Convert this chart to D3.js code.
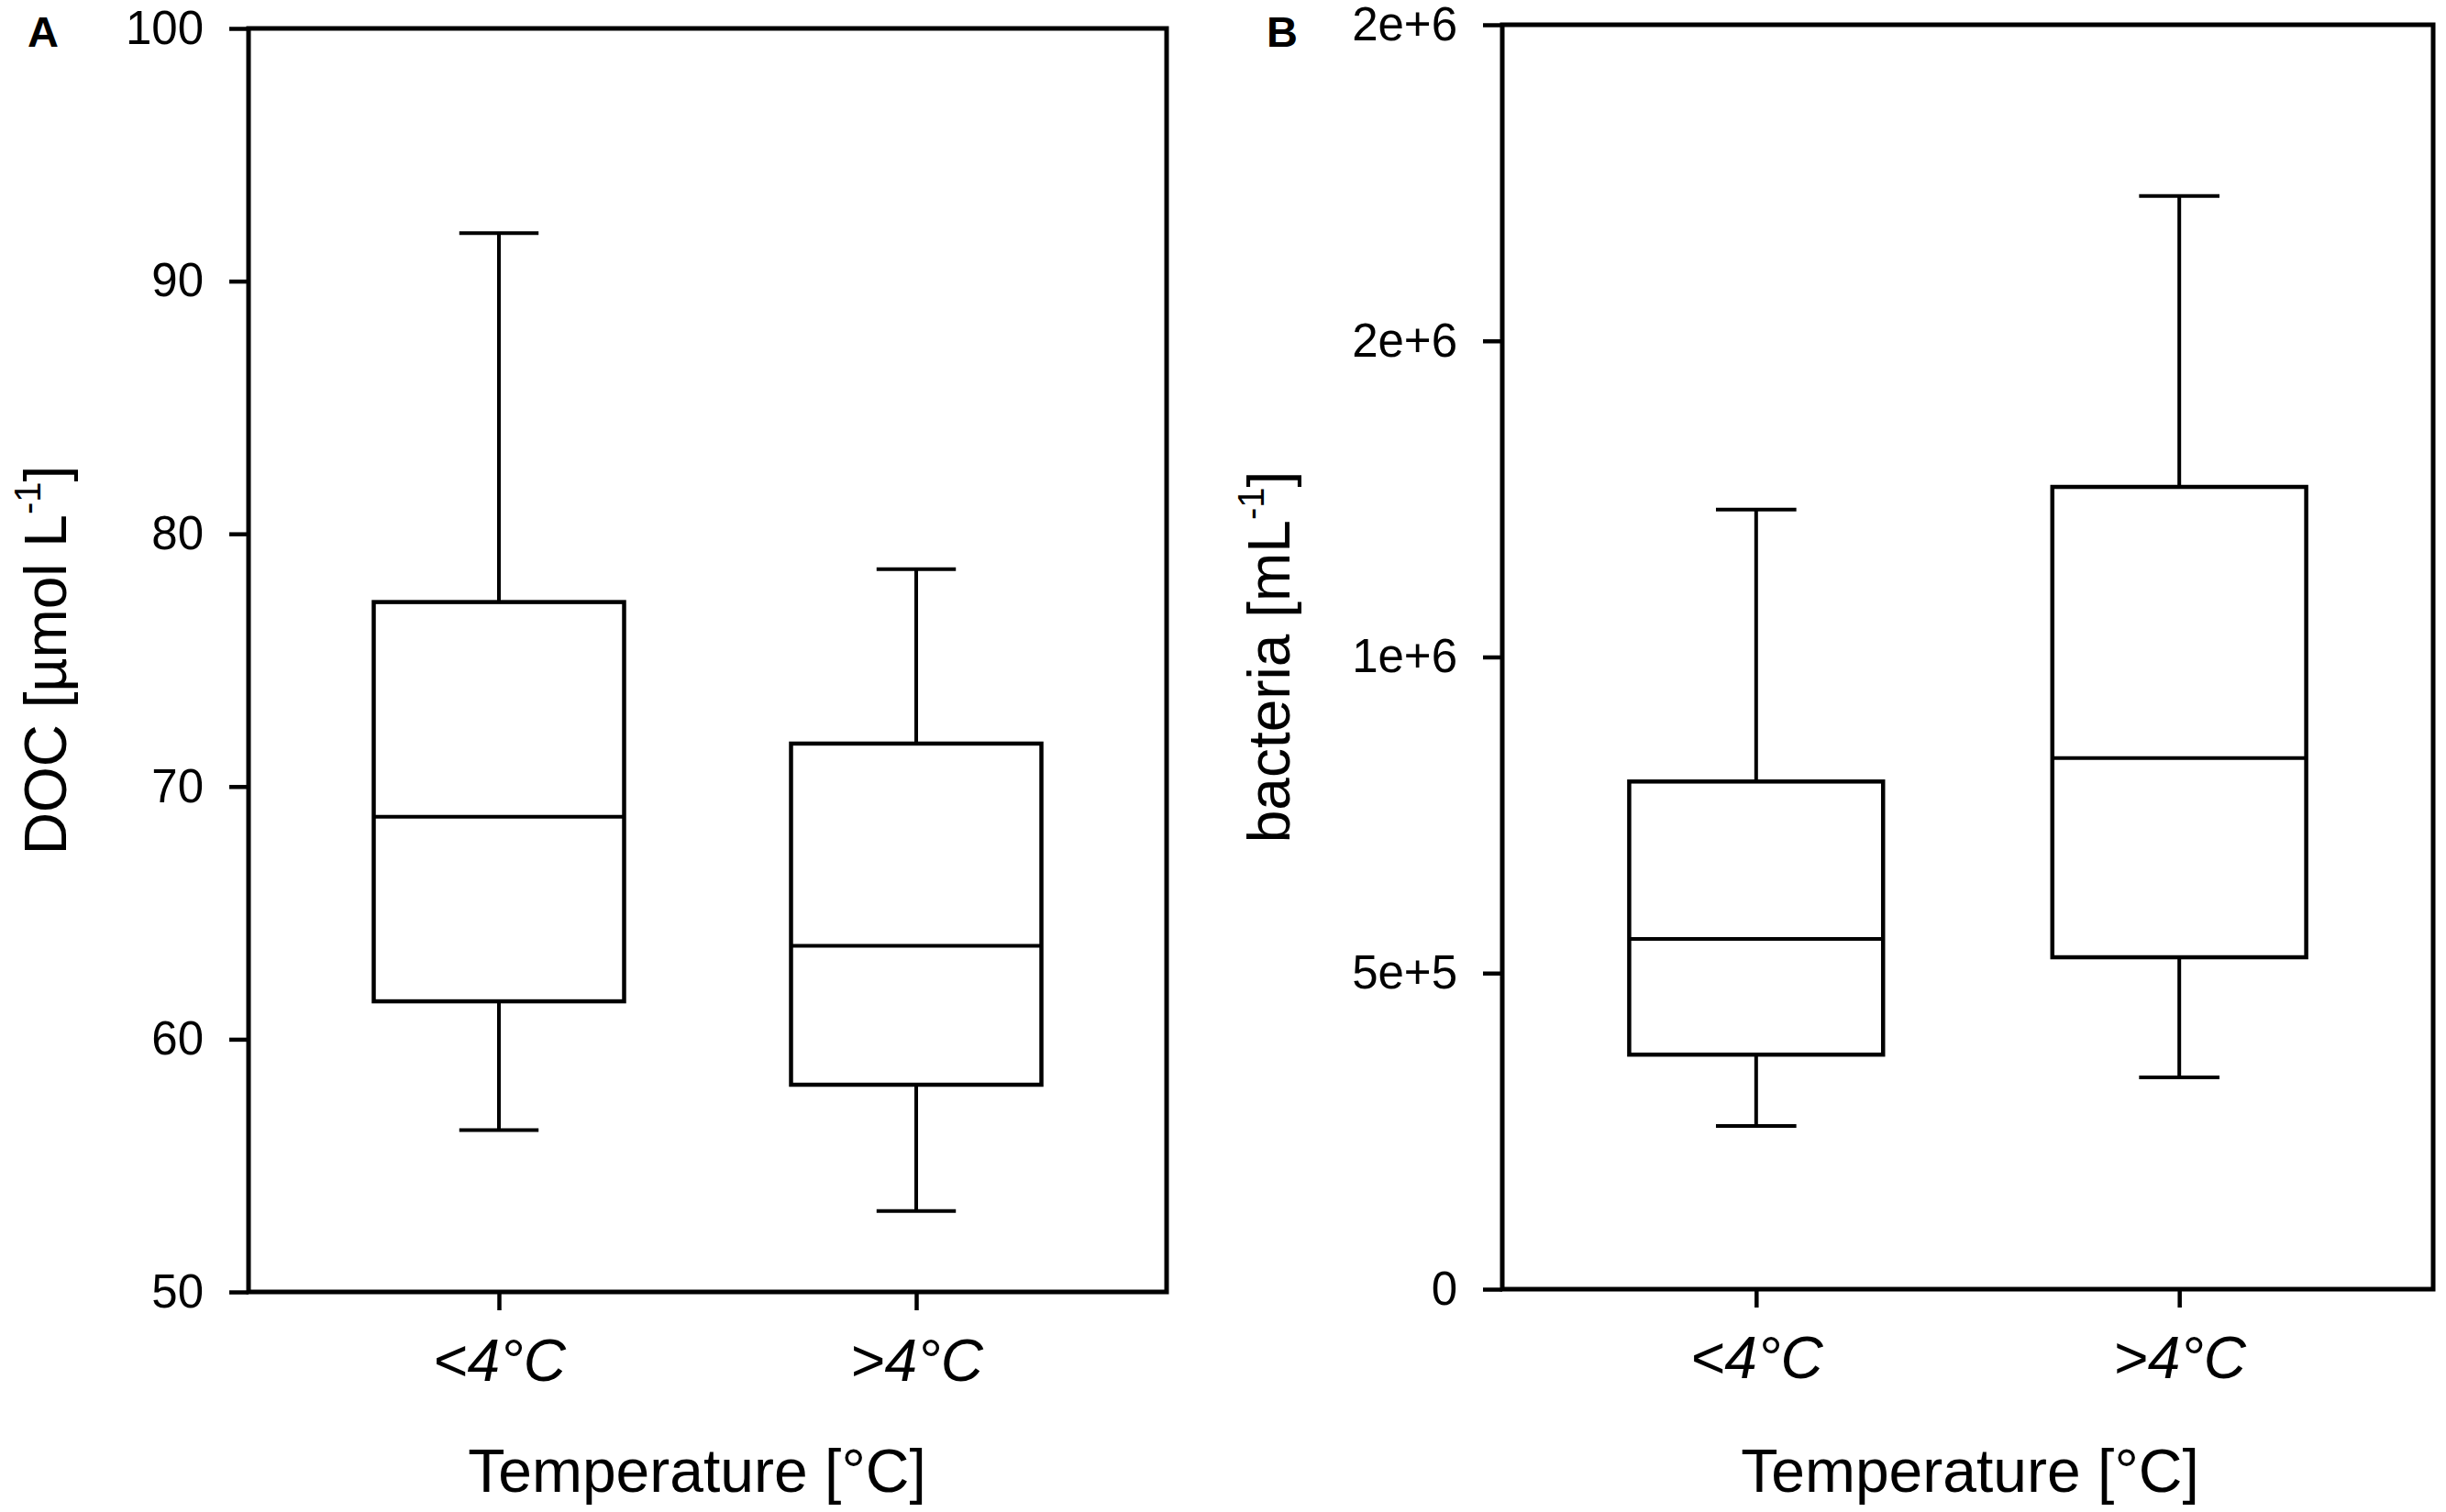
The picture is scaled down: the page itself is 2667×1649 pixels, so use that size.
<!DOCTYPE html>
<html>
<head>
<meta charset="utf-8">
<script src="https://cdn.jsdelivr.net/npm/d3@7"></script>
<style>
    body { margin: 0; background: #fff; }
    text { font-family: "Liberation Sans", Arial, sans-serif; fill: #000; }
</style>
</head>
<body>
<svg id="chart"></svg>
<script>
// groups on the x axis
var categories = ["<4°C", ">4°C"];

// panel A: DOC [µmol L-1]
var docMin = [56.4, 53.2];
var docQ1 = [61.5, 58.2];
var docMedian = [68.8, 63.7];
var docQ3 = [77.3, 71.7];
var docMax = [91.9, 78.6];
var docTicks = [50, 60, 70, 80, 90, 100];
var docTickLabels = ["50", "60", "70", "80", "90", "100"];

// panel B: bacteria [mL-1]
var bacMin = [258000, 335000];
var bacQ1 = [371000, 525000];
var bacMedian = [554000, 840000];
var bacQ3 = [803000, 1269000];
var bacMax = [1233000, 1729000];
var bacTicks = [0, 500000, 1000000, 1500000, 2000000];
var bacTickLabels = ["0", "5e+5", "1e+6", "2e+6", "2e+6"];

var width = 2667, height = 1649;

var svg = d3.select("#chart")
    .attr("width", width)
    .attr("height", height)
    .attr("viewBox", [0, 0, width, height]);

function drawPanel(p) {
    var x = d3.scalePoint()
        .domain(categories)
        .range([p.left, p.right])
        .padding(0.6);

    var y = d3.scaleLinear()
        .domain(p.domain)
        .range([p.bottom, p.top]);

    var step = x.step();
    var boxW = step * 0.6;
    var capW = step * 0.19;

    var rows = categories.map((c, i) => ({
        cat: c, min: p.min[i], q1: p.q1[i], med: p.med[i], q3: p.q3[i], max: p.max[i]
    }));

    var g = svg.append("g")
        .attr("stroke", "#000")
        .attr("fill", "none");

    // whiskers
    g.selectAll(".whisk-up")
        .data(rows)
        .join("line")
        .attr("x1", d => x(d.cat)).attr("x2", d => x(d.cat))
        .attr("y1", d => y(d.q3)).attr("y2", d => y(d.max))
        .attr("stroke-width", 4);

    g.selectAll(".whisk-down")
        .data(rows)
        .join("line")
        .attr("x1", d => x(d.cat)).attr("x2", d => x(d.cat))
        .attr("y1", d => y(d.q1)).attr("y2", d => y(d.min))
        .attr("stroke-width", 4);

    g.selectAll(".cap")
        .data(rows.flatMap(d => [{ cat: d.cat, v: d.max }, { cat: d.cat, v: d.min }]))
        .join("line")
        .attr("x1", d => x(d.cat) - capW / 2).attr("x2", d => x(d.cat) + capW / 2)
        .attr("y1", d => y(d.v)).attr("y2", d => y(d.v))
        .attr("stroke-width", 4);

    g.selectAll("rect")
        .data(rows)
        .join("rect")
        .attr("x", d => x(d.cat) - boxW / 2)
        .attr("y", d => y(d.q3))
        .attr("width", boxW)
        .attr("height", d => y(d.q1) - y(d.q3))
        .attr("fill", "#fff")
        .attr("stroke-width", 4.5);

    g.selectAll(".median")
        .data(rows)
        .join("line")
        .attr("x1", d => x(d.cat) - boxW / 2).attr("x2", d => x(d.cat) + boxW / 2)
        .attr("y1", d => y(d.med)).attr("y2", d => y(d.med))
        .attr("stroke-width", 4);

    // frame
    svg.append("rect")
        .attr("x", p.left).attr("y", p.top)
        .attr("width", p.right - p.left)
        .attr("height", p.bottom - p.top)
        .attr("fill", "none")
        .attr("stroke", "#000")
        .attr("stroke-width", 5);

    // axes
    var yAxis = svg.append("g")
        .attr("transform", `translate(${p.left},0)`)
        .call(d3.axisLeft(y)
            .tickValues(p.ticks)
            .tickFormat((d, i) => p.tickLabels[i])
            .tickSize(21).tickSizeOuter(0).tickPadding(28));
    yAxis.select(".domain").remove();
    yAxis.selectAll("line").attr("stroke", "#000").attr("stroke-width", 4.5);
    yAxis.selectAll("text")
        .attr("font-size", 51)
        .attr("font-family", "'Liberation Sans', Arial, sans-serif")
        .attr("fill", "#000");

    var xAxis = svg.append("g")
        .attr("transform", `translate(0,${p.bottom})`)
        .call(d3.axisBottom(x).tickSize(20).tickSizeOuter(0).tickPadding(32));
    xAxis.select(".domain").remove();
    xAxis.selectAll("line").attr("stroke", "#000").attr("stroke-width", 4.5);
    xAxis.selectAll("text")
        .attr("font-size", 64)
        .attr("font-style", "italic")
        .attr("font-family", "'Liberation Sans', Arial, sans-serif")
        .attr("fill", "#000");

    // x title
    svg.append("text")
        .attr("x", p.xTitleX)
        .attr("y", 1627)
        .attr("text-anchor", "middle")
        .attr("font-size", 66)
        .text("Temperature [°C]");

    // y title with superscript
    var yt = svg.append("text")
        .attr("transform", `translate(${p.titleX},${(p.top + p.bottom) / 2}) rotate(-90)`)
        .attr("text-anchor", "middle")
        .attr("font-size", 64);
    yt.append("tspan").text(p.yLabel + " ");
    yt.append("tspan").text(p.yUnit);
    yt.append("tspan").attr("font-size", 40).attr("dy", -28).text("-1");
    yt.append("tspan").attr("dy", 28).text("]");

    // panel letter
    svg.append("text")
        .attr("x", p.letterX)
        .attr("y", 51)
        .attr("font-size", 47)
        .attr("font-weight", "bold")
        .text(p.letter);
}

drawPanel({
    letter: "A", letterX: 30,
    left: 271, right: 1272, top: 31, bottom: 1409, xTitleX: 760,
    domain: [50, 100],
    min: docMin, q1: docQ1, med: docMedian, q3: docQ3, max: docMax,
    ticks: docTicks, tickLabels: docTickLabels,
    yLabel: "DOC", yUnit: "[µmol L", titleX: 72
});

drawPanel({
    letter: "B", letterX: 1381,
    left: 1638, right: 2653, top: 27, bottom: 1406, xTitleX: 2148,
    domain: [0, 2000000],
    min: bacMin, q1: bacQ1, med: bacMedian, q3: bacQ3, max: bacMax,
    ticks: bacTicks, tickLabels: bacTickLabels,
    yLabel: "bacteria", yUnit: "[mL", titleX: 1406
});
</script>
</body>
</html>
